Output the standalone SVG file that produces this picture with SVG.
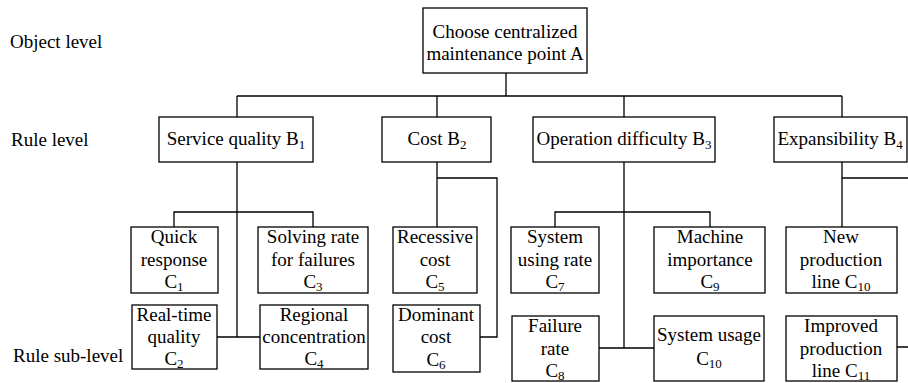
<svg xmlns="http://www.w3.org/2000/svg" width="908" height="383" viewBox="0 0 908 383">
<style>
  rect.n { fill: #ffffff; stroke: #000000; stroke-width: 1.3; }
  .c path { fill: none; stroke: #000000; stroke-width: 1.3; }
  .m { text-anchor: middle; }
  .s { font-size: 13px; }
</style>
<rect width="908" height="383" fill="#ffffff"/>
<g class="c">
  <path d="M506 73 V96 M237 96 H842 M237 96 V117 M437 96 V117 M624 96 V117 M842 96 V117"/>
  <path d="M237 162 V337 M174 227 V212 H313 V227 M217 337 H260"/>
  <path d="M437 162 V227 M437 178 H497 V337 H480"/>
  <path d="M624 162 V348 M555 227 V212 H710 V227 M599 348 H654"/>
  <path d="M842 162 V227 M842 178 H908 M897 347 H908"/>
</g>
<g font-family="Liberation Serif, Times New Roman, serif" font-size="19" fill="#000000">
<g id="levels">
  <text x="10" y="48">Object level</text>
  <text x="11" y="146">Rule level</text>
  <text x="13" y="362">Rule sub-level</text>
</g>
<g id="A">
  <rect class="n" x="423" y="8" width="164" height="65"/>
  <text class="m" x="505" y="38">Choose centralized</text>
  <text class="m" x="505" y="60">maintenance point A</text>
</g>
<g id="B1">
  <rect class="n" x="159" y="117" width="154" height="45"/>
  <text class="m" x="236" y="145">Service quality B<tspan class="s" dy="4">1</tspan></text>
</g>
<g id="B2">
  <rect class="n" x="382" y="117" width="109" height="45"/>
  <text class="m" x="437" y="145">Cost B<tspan class="s" dy="4">2</tspan></text>
</g>
<g id="B3">
  <rect class="n" x="533" y="117" width="182" height="45"/>
  <text class="m" x="624" y="145">Operation difficulty B<tspan class="s" dy="4">3</tspan></text>
</g>
<g id="B4">
  <rect class="n" x="774" y="117" width="133" height="45"/>
  <text class="m" x="840" y="145">Expansibility B<tspan class="s" dy="4">4</tspan></text>
</g>
<g id="C1">
  <rect class="n" x="131" y="227" width="87" height="66"/>
  <text class="m" x="174" y="243">Quick</text>
  <text class="m" x="174" y="266">response</text>
  <text class="m" x="174" y="288">C<tspan class="s" dy="3">1</tspan></text>
</g>
<g id="C3">
  <rect class="n" x="258" y="227" width="110" height="66"/>
  <text class="m" x="313" y="243">Solving rate</text>
  <text class="m" x="313" y="266">for failures</text>
  <text class="m" x="313" y="288">C<tspan class="s" dy="3">3</tspan></text>
</g>
<g id="C2">
  <rect class="n" x="132" y="305" width="85" height="64"/>
  <text class="m" x="174" y="321">Real-time</text>
  <text class="m" x="174" y="343">quality</text>
  <text class="m" x="174" y="365">C<tspan class="s" dy="3">2</tspan></text>
</g>
<g id="C4">
  <rect class="n" x="260" y="305" width="108" height="64"/>
  <text class="m" x="314" y="321">Regional</text>
  <text class="m" x="314" y="343">concentration</text>
  <text class="m" x="314" y="365">C<tspan class="s" dy="3">4</tspan></text>
</g>
<g id="C5">
  <rect class="n" x="393" y="227" width="84" height="66"/>
  <text class="m" x="435" y="243">Recessive</text>
  <text class="m" x="435" y="266">cost</text>
  <text class="m" x="435" y="288">C<tspan class="s" dy="3">5</tspan></text>
</g>
<g id="C6">
  <rect class="n" x="393" y="305" width="87" height="67"/>
  <text class="m" x="436" y="321">Dominant</text>
  <text class="m" x="436" y="343">cost</text>
  <text class="m" x="436" y="366">C<tspan class="s" dy="3">6</tspan></text>
</g>
<g id="C7">
  <rect class="n" x="511" y="227" width="88" height="66"/>
  <text class="m" x="555" y="243">System</text>
  <text class="m" x="555" y="266">using rate</text>
  <text class="m" x="555" y="288">C<tspan class="s" dy="3">7</tspan></text>
</g>
<g id="C9">
  <rect class="n" x="654" y="227" width="111" height="66"/>
  <text class="m" x="710" y="243">Machine</text>
  <text class="m" x="710" y="266">importance</text>
  <text class="m" x="710" y="288">C<tspan class="s" dy="3">9</tspan></text>
</g>
<g id="C8">
  <rect class="n" x="512" y="316" width="87" height="65"/>
  <text class="m" x="555" y="332">Failure</text>
  <text class="m" x="555" y="355">rate</text>
  <text class="m" x="555" y="377">C<tspan class="s" dy="3">8</tspan></text>
</g>
<g id="C10b">
  <rect class="n" x="654" y="316" width="110" height="65"/>
  <text class="m" x="709" y="341">System usage</text>
  <text class="m" x="709" y="365">C<tspan class="s" dy="3">10</tspan></text>
</g>
<g id="C10a">
  <rect class="n" x="786" y="227" width="111" height="66"/>
  <text class="m" x="841" y="243">New</text>
  <text class="m" x="841" y="266">production</text>
  <text class="m" x="841" y="288">line C<tspan class="s" dy="3">10</tspan></text>
</g>
<g id="C11">
  <rect class="n" x="786" y="316" width="111" height="65"/>
  <text class="m" x="841" y="332">Improved</text>
  <text class="m" x="841" y="355">production</text>
  <text class="m" x="841" y="377">line C<tspan class="s" dy="3">11</tspan></text>
</g>
</g>
</svg>
